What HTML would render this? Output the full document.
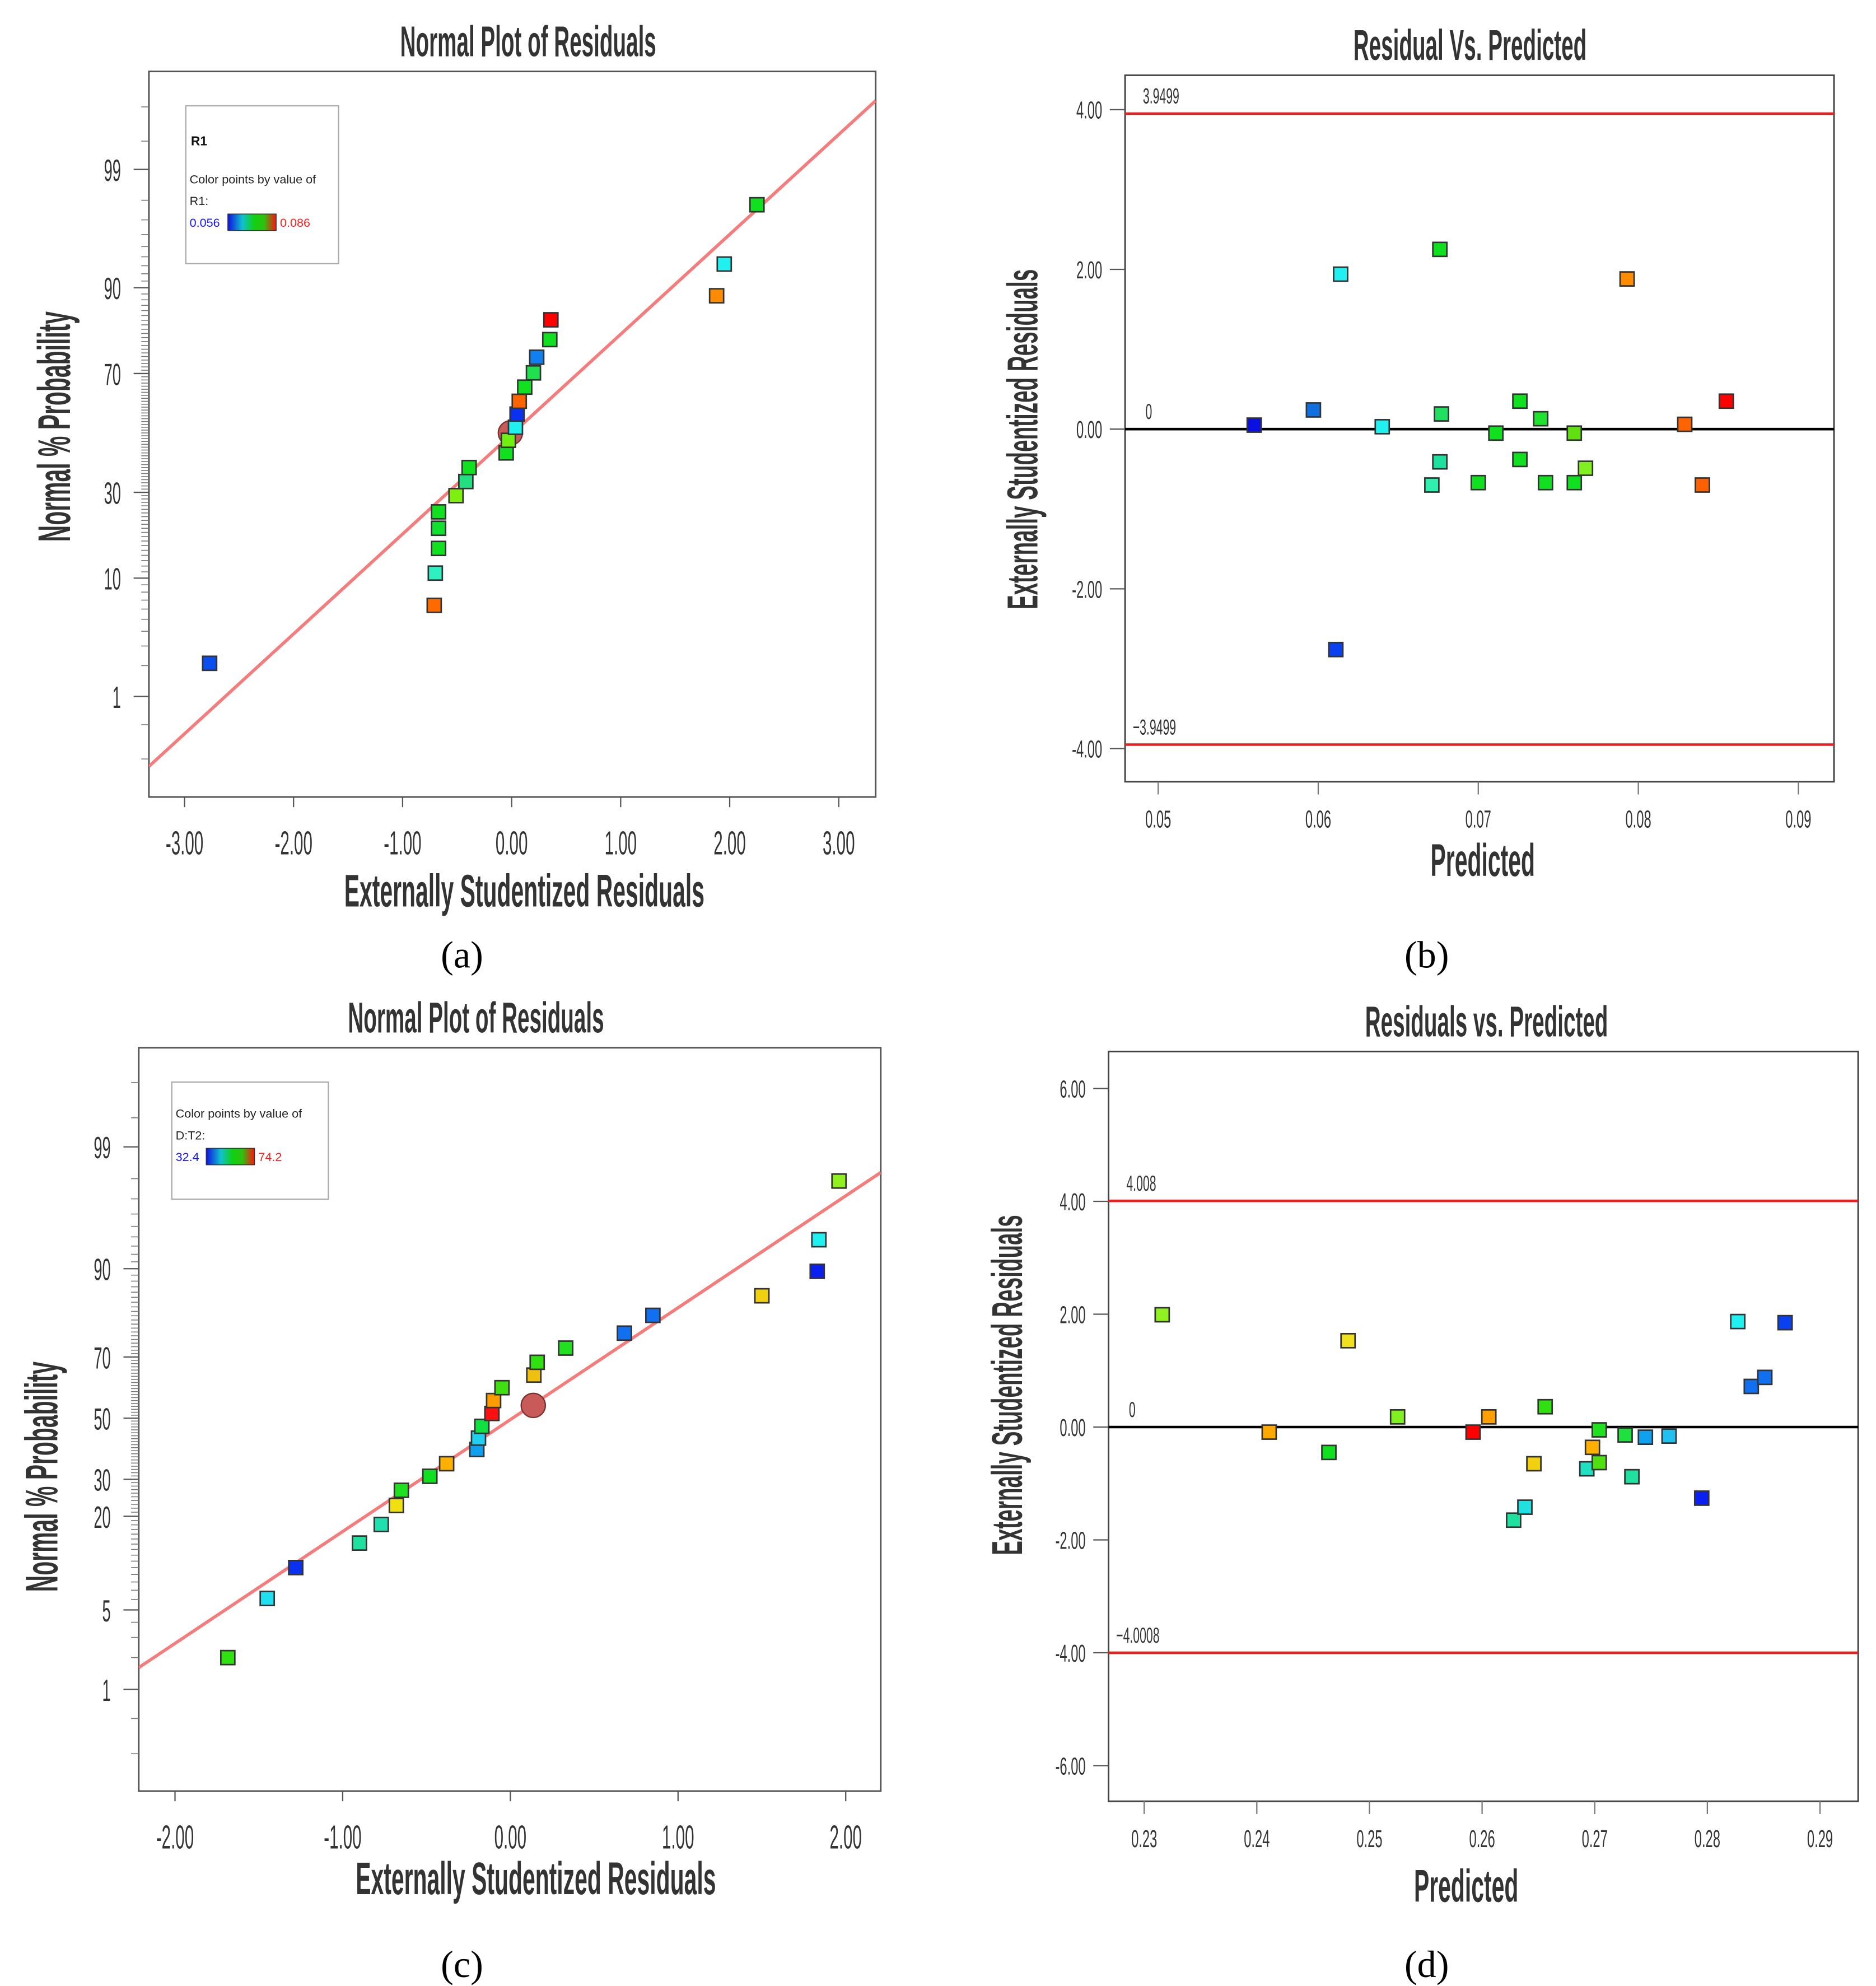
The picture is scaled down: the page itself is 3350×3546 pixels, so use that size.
<!DOCTYPE html>
<html><head><meta charset="utf-8"><style>
html,body{margin:0;padding:0;background:#fff;}
svg{display:block;font-family:"Liberation Sans",sans-serif;}
</style></head><body>
<svg id="fig" width="3350" height="3546" viewBox="0 0 1474 1560" xmlns="http://www.w3.org/2000/svg"></svg>
<script>
// ---------- DATA ----------
// Panel a: normal plot
const aResid = [-2.77,-0.71,-0.70,-0.67,-0.67,-0.67,-0.51,-0.42,-0.39,-0.05,-0.03,0.035,0.05,0.07,0.12,0.20,0.23,0.35,0.36,1.88,1.95,2.25];
const aProb  = [2.1,6.4,10.8,15.4,20,24.3,29,33.4,38,43,47.4,52,56.6,61,65.7,70.2,74.8,79.5,84.1,88.7,93.2,97.8];
const aColor = ['#0a4ef0','#ff6a00','#2ef0c0','#10e020','#12e030','#10e020','#7ef010','#20e080','#10e020','#10e020','#70f010','#20f0f0','#0a30f0','#ff6400','#10e020','#20e050','#1080f0','#10e020','#ff0000','#ff8c00','#20f0f0','#10e020'];
const aTickX = [-3,-2,-1,0,1,2,3];
const aTickXLabels = ['-3.00','-2.00','-1.00','0.00','1.00','2.00','3.00'];
const aTickP = [1,10,30,70,90,99];
// Panel b
const bPred  = [0.0560,0.0597,0.0614,0.0611,0.0640,0.0671,0.0676,0.0677,0.0676,0.0700,0.0711,0.0726,0.0726,0.0739,0.0742,0.0760,0.0760,0.0767,0.0793,0.0829,0.0840,0.0855];
const bResid = [0.05,0.24,1.94,-2.76,0.03,-0.70,2.25,0.19,-0.41,-0.67,-0.05,0.35,-0.38,0.13,-0.67,-0.67,-0.05,-0.49,1.88,0.06,-0.70,0.35];
const bColor = ['#0a10e0','#1070e0','#20f0f0','#0a40f0','#20f0f0','#30f0b0','#10e020','#20e060','#20e0a0','#10e020','#10e020','#10e020','#10e020','#20e030','#10e020','#10e020','#60e010','#80f020','#ff8c00','#ff6400','#ff6000','#ff0000'];
const bTickX = [0.05,0.06,0.07,0.08,0.09];
const bTickXLabels = ['0.05','0.06','0.07','0.08','0.09'];
const bTickY = [4,2,0,-2,-4];
const bTickYLabels = ['4.00','2.00','0.00','-2.00','-4.00'];
const bLimits = [3.9499,-3.9499];
// Panel c
const cResid = [-1.685,-1.45,-1.28,-0.90,-0.77,-0.68,-0.65,-0.48,-0.38,-0.20,-0.19,-0.17,-0.11,-0.10,-0.05,0.14,0.16,0.33,0.68,0.85,1.50,1.83,1.84,1.96];
const cProb  = [2.0,6.1,10.0,14.2,18.1,22.7,26.8,30.9,34.8,39.4,43.2,47.2,51.6,56.0,60.3,64.4,68.4,72.6,76.7,81.1,85.3,89.6,93.7,97.9];
const cColor = ['#30e010','#20e0f0','#0a30f0','#20e0a0','#20e0b0','#f0e010','#20e020','#10e020','#ffb000','#10a0f0','#20d0f0','#10e040','#ff1010','#ff9c00','#40e010','#f0c010','#30e010','#20e020','#1070f0','#1070f0','#f0d010','#0a20f0','#20f0f0','#90f020'];
const cTickX = [-2,-1,0,1,2];
const cTickXLabels = ['-2.00','-1.00','0.00','1.00','2.00'];
const cTickP = [1,5,20,30,50,70,90,99];
// Panel d
const dPred  = [0.2316,0.2411,0.2464,0.2481,0.2525,0.2592,0.2606,0.2628,0.2638,0.2646,0.2656,0.2693,0.2698,0.2704,0.2704,0.2727,0.2733,0.2745,0.2766,0.2795,0.2827,0.2839,0.2851,0.2869];
const dResid = [1.99,-0.09,-0.45,1.53,0.18,-0.09,0.18,-1.65,-1.42,-0.65,0.36,-0.74,-0.36,-0.05,-0.63,-0.14,-0.88,-0.18,-0.16,-1.26,1.87,0.72,0.88,1.85];
const dColor = ['#90f020','#ffa800','#10e020','#f0e020','#80f020','#ff0000','#ffa000','#20e0a0','#20e0e0','#f0d010','#30e010','#20e0c0','#ffb000','#20e020','#50e010','#20e040','#20e0a0','#10a0f0','#20c0f0','#0a20f0','#20f0f0','#1070f0','#1070f0','#0a40f0'];
const dTickX = [0.23,0.24,0.25,0.26,0.27,0.28,0.29];
const dTickXLabels = ['0.23','0.24','0.25','0.26','0.27','0.28','0.29'];
const dTickY = [6,4,2,0,-2,-4,-6];
const dTickYLabels = ['6.00','4.00','2.00','0.00','-2.00','-4.00','-6.00'];
const dLimits = [4.008,-4.0008];

// ---------- HELPERS ----------
const NS='http://www.w3.org/2000/svg';
const svg=document.getElementById('fig');
function el(tag,attrs,parent){const e=document.createElementNS(NS,tag);for(const k in attrs)e.setAttribute(k,attrs[k]);(parent||svg).appendChild(e);return e;}
function txt(x,y,s,size,sx,anchor,fill,parent,weight,font){
  const g=el('g',{transform:`translate(${x},${y}) scale(${sx},1)`},parent);
  const t=el('text',{x:0,y:0,'font-size':size,'text-anchor':anchor||'middle',fill:fill||'#333','font-family':font||'"Liberation Sans",sans-serif','font-weight':weight||'normal'},g);
  t.textContent=s;return t;
}
function vtxt(x,y,s,size,sx,parent){
  const g=el('g',{transform:`translate(${x},${y}) rotate(-90) scale(${sx},1)`},parent);
  const t=el('text',{x:0,y:0,'font-size':size,'text-anchor':'middle',fill:'#333','font-weight':'bold'},g);
  t.textContent=s;return t;
}
function invNorm(p){
  const a=[-39.6968302866538,220.946098424521,-275.928510446969,138.357751867269,-30.6647980661472,2.50662827745924];
  const b=[-54.4760987982241,161.585836858041,-155.698979859887,66.8013118877197,-13.2806815528857];
  const c=[-0.00778489400243029,-0.322396458041136,-2.40075827716184,-2.54973253934373,4.37466414146497,2.93816398269878];
  const d=[0.00778469570904146,0.32246712907004,2.445134137143,3.75440866190742];
  const pl=0.02425;let q,r;
  if(p<pl){q=Math.sqrt(-2*Math.log(p));return (((((c[0]*q+c[1])*q+c[2])*q+c[3])*q+c[4])*q+c[5])/((((d[0]*q+d[1])*q+d[2])*q+d[3])*q+1);}
  if(p>1-pl){q=Math.sqrt(-2*Math.log(1-p));return -(((((c[0]*q+c[1])*q+c[2])*q+c[3])*q+c[4])*q+c[5])/((((d[0]*q+d[1])*q+d[2])*q+d[3])*q+1);}
  q=p-0.5;r=q*q;return (((((a[0]*r+a[1])*r+a[2])*r+a[3])*r+a[4])*r+a[5])*q/(((((b[0]*r+b[1])*r+b[2])*r+b[3])*r+b[4])*r+1);
}
function marker(x,y,color,parent,name){
  const r=el('rect',{x:x-5.5,y:y-5.5,width:11,height:11,fill:color,stroke:'#333','stroke-width':1.2},parent);
  
  
}

// ---------- NORMAL PLOT ----------
function normalPlot(o){
  const g=el('g',{});
  
  
  const X=v=>o.x0+v*o.kx, Y=p=>o.y50-o.kz*invNorm(p/100);
  const box=el('rect',{x:o.L,y:o.T,width:o.R-o.L,height:o.B-o.T,fill:'#fff',stroke:'#555','stroke-width':1.3},g);
  
  
  for(let p=1;p<=99;p++){const y=Y(p);if(y>o.T&&y<o.B)el('line',{x1:o.L-6,x2:o.L,y1:y,y2:y,stroke:'#777','stroke-width':0.7},g);}
  [0.5,0.2,99.5,99.8].forEach(p=>{const y=Y(p);if(y>o.T&&y<o.B)el('line',{x1:o.L-6,x2:o.L,y1:y,y2:y,stroke:'#777','stroke-width':0.7},g);});
  o.tickP.forEach(p=>{const y=Y(p);el('line',{x1:o.L-12,x2:o.L,y1:y,y2:y,stroke:'#555','stroke-width':1},g);
    const t=txt(o.L-22,y+9,String(p),24,0.5,'end','#333',g);});
  o.tickX.forEach((v,i)=>{const x=X(v);el('line',{x1:x,x2:x,y1:o.B,y2:o.B+8,stroke:'#555','stroke-width':1},g);
    const t=txt(x,o.B+45,o.tickXLabels[i],26,0.5,'middle','#333',g);});
  const cp=el('clipPath',{id:o.name+'-clip'},g);el('rect',{x:o.L,y:o.T,width:o.R-o.L,height:o.B-o.T},cp);
  const ln=el('line',{x1:o.line[0],y1:o.line[1],x2:o.line[2],y2:o.line[3],stroke:'#f47c7c','stroke-width':2.5,'clip-path':`url(#${o.name}-clip)`},g);
  
  const c=el('circle',{cx:o.circle[0],cy:o.circle[1],r:9.5,fill:'#c85a5a',stroke:'#7a3030','stroke-width':1},g);
  
  o.resid.forEach((v,i)=>marker(X(v),Y(o.prob[i]),o.color[i],g,'residual-point'));
  let t=txt(o.titleX,o.T-12,'Normal Plot of Residuals',34,0.5,'middle','#333',g,'bold');
  t=txt(o.xlX,o.xlY,'Externally Studentized Residuals',36,0.5,'middle','#333',g,'bold');
  t=vtxt(o.ylX,o.ylY,'Normal % Probability',36,0.5,g);
  const lg=el('g',{},g);
  el('rect',{x:o.leg[0],y:o.leg[1],width:o.leg[2],height:o.leg[3],fill:'#fff',stroke:'#aaa','stroke-width':1},lg);
  let ly=o.leg[1];
  if(o.legTitle){txt(o.leg[0]+4,ly+31,o.legTitle,10,1,'start','#111',lg,'bold');ly+=33;}
  txt(o.leg[0]+3,ly+28,'Color points by value of',9.5,1,'start','#222',lg);
  txt(o.leg[0]+3,ly+45,o.legVar,9.5,1,'start','#222',lg);
  txt(o.leg[0]+3,ly+62,o.legMin,9.5,1,'start','#1515ff',lg);
  const gid=o.name+'-grad';const gr=el('linearGradient',{id:gid,x1:0,x2:1,y1:0,y2:0},lg);
  [['0','#1010e0'],['0.3','#10c0d0'],['0.55','#10d010'],['0.75','#30c010'],['1','#ff1010']].forEach(s=>el('stop',{offset:s[0],'stop-color':s[1]},gr));
  el('rect',{x:o.leg[0]+o.barX,y:ly+52,width:38,height:13,fill:`url(#${gid})`,stroke:'#333','stroke-width':0.6},lg);
  txt(o.leg[0]+o.barX+41,ly+62,o.legMax,9.5,1,'start','#ff2020',lg);
  t=txt(o.capX,o.capY,o.cap,30,1,'middle','#000',g,'normal','"Liberation Serif",serif');
}

// ---------- RESIDUAL VS PREDICTED ----------
function resPlot(o){
  const g=el('g',{});
  
  
  const X=v=>o.x0+(v-o.xv0)*o.kx, Y=v=>o.y0-v*o.ky;
  const box=el('rect',{x:o.L,y:o.T,width:o.R-o.L,height:o.B-o.T,fill:'#fff',stroke:'#444','stroke-width':1.3},g);
  
  o.tickY.forEach((v,i)=>{const y=Y(v);el('line',{x1:o.L-12,x2:o.L,y1:y,y2:y,stroke:'#555','stroke-width':1},g);
    const t=txt(o.L-18,y+7,o.tickYLabels[i],19,0.55,'end','#333',g);});
  o.tickX.forEach((v,i)=>{const x=X(v);el('line',{x1:x,x2:x,y1:o.B,y2:o.B+10,stroke:'#777','stroke-width':1},g);
    const t=txt(x,o.B+36,o.tickXLabels[i],19,0.55,'middle','#333',g);});
  o.limits.forEach((v,i)=>{const y=Y(v);const l=el('line',{x1:o.L,x2:o.R,y1:y,y2:y,stroke:'#e82020','stroke-width':2},g);
    
    txt(o.L+(i?6:14),y-8,String(v).replace('-','\u2212'),17,0.55,'start','#333',g);});
  const z=el('line',{x1:o.L,x2:o.R,y1:Y(0),y2:Y(0),stroke:'#000','stroke-width':2},g);
  
  txt(o.L+16,Y(0)-8,'0',17,0.55,'start','#333',g);
  o.pred.forEach((v,i)=>marker(X(v),Y(o.resid[i]),o.color[i],g,'residual-point'));
  let t=txt(o.titleX,o.T-12,o.title,34,0.5,'middle','#333',g,'bold');
  t=txt(o.xlX,o.xlY,'Predicted',36,0.5,'middle','#333',g,'bold');
  t=vtxt(o.ylX,o.ylY,o.ylab,34,0.5,g);
  t=txt(o.capX,o.capY,o.cap,30,1,'middle','#000',g,'normal','"Liberation Serif",serif');
}

normalPlot({name:'normal-plot-a',L:117,R:688,T:56,B:626,x0:402,kx:85.67,y50:340,kz:89,
  resid:aResid,prob:aProb,color:aColor,tickX:aTickX,tickXLabels:aTickXLabels,tickP:aTickP,
  line:[117,602,688,79],circle:[401,340],titleX:415,xlX:412,xlY:712,ylX:55,ylY:335,
  leg:[146,83,120,124],legTitle:'R1',legVar:'R1:',legMin:'0.056',legMax:'0.086',barX:33,cap:'(a)',capX:363,capY:760});
normalPlot({name:'normal-plot-c',L:109,R:692,T:823,B:1407,x0:401,kx:131.75,y50:1114,kz:91.6,
  resid:cResid,prob:cProb,color:cColor,tickX:cTickX,tickXLabels:cTickXLabels,tickP:cTickP,
  line:[109,1310,692,921],circle:[419,1104],titleX:374,xlX:421,xlY:1488,ylX:45,ylY:1160,
  leg:[135,850,123,92],legTitle:null,legVar:'D:T2:',legMin:'32.4',legMax:'74.2',barX:27,cap:'(c)',capX:363,capY:1553});
resPlot({name:'residual-vs-predicted-b',L:884,R:1441,T:59,B:614,x0:910,xv0:0.05,kx:12575,y0:337,ky:62.75,
  pred:bPred,resid:bResid,color:bColor,tickX:bTickX,tickXLabels:bTickXLabels,tickY:bTickY,tickYLabels:bTickYLabels,
  limits:bLimits,title:'Residual Vs. Predicted',titleX:1155,xlX:1165,xlY:688,ylX:815,ylY:345,
  ylab:'Externally Studentized Residuals',cap:'(b)',capX:1121,capY:760});
resPlot({name:'residual-vs-predicted-d',L:871,R:1460,T:826,B:1415,x0:899,xv0:0.23,kx:8850,y0:1121,ky:44.33,
  pred:dPred,resid:dResid,color:dColor,tickX:dTickX,tickXLabels:dTickXLabels,tickY:dTickY,tickYLabels:dTickYLabels,
  limits:dLimits,title:'Residuals vs. Predicted',titleX:1168,xlX:1152,xlY:1494,ylX:803,ylY:1088,
  ylab:'Externally Studentized Residuals',cap:'(d)',capX:1121,capY:1553});
</script>
</body></html>
